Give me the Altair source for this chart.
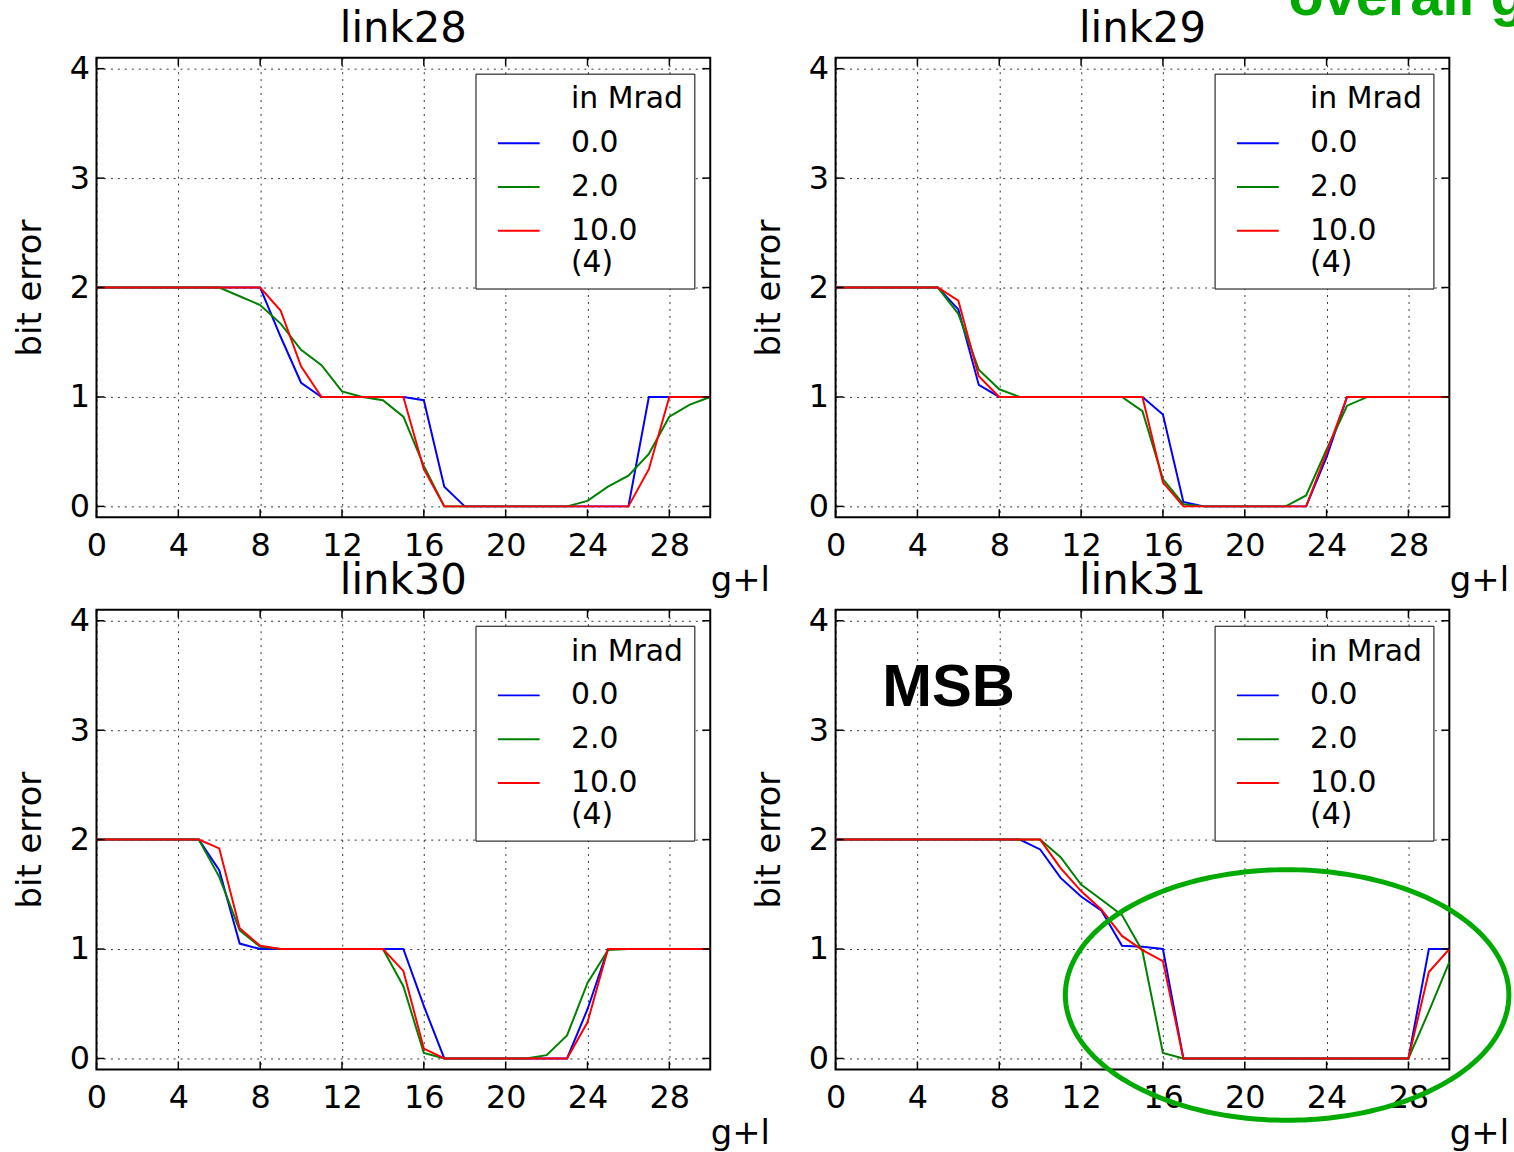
import altair as alt
import numpy as np
import pandas as pd

# ---------------- data ----------------
X = [0, 1, 2, 3, 4, 5, 6, 7, 8, 9, 10, 11, 12, 13, 14, 15, 16, 17, 18, 19, 20,
     21, 22, 23, 24, 25, 26, 27, 28, 29, 30]
X_TICKS = [0, 4, 8, 12, 16, 20, 24, 28]
Y_TICKS = [0, 1, 2, 3, 4]
DOSES = ["0.0", "2.0", "10.0"]
LEGEND_DOMAIN = ["in Mrad", "0.0", "2.0", "10.0"]
LEGEND_COLORS = ["white", "#0000ff", "#008000", "#ff0000"]

LINK28_00 = [2, 2, 2, 2, 2, 2, 2, 2, 2, 1.55, 1.13, 1, 1, 1, 1, 1, 0.97, 0.18,
             0, 0, 0, 0, 0, 0, 0, 0, 0, 1, 1, 1, 1]
LINK28_20 = [2, 2, 2, 2, 2, 2, 2, 1.92, 1.84, 1.67, 1.43, 1.29, 1.05, 1.0, 0.97,
             0.82, 0.37, 0, 0, 0, 0, 0, 0, 0, 0.05, 0.18, 0.28, 0.48, 0.82, 0.93, 1.0]
LINK28_100 = [2, 2, 2, 2, 2, 2, 2, 2, 2, 1.79, 1.28, 1, 1, 1, 1, 1, 0.34, 0,
              0, 0, 0, 0, 0, 0, 0, 0, 0, 0.34, 1, 1, 1]

LINK29_00 = [2, 2, 2, 2, 2, 2, 1.8, 1.11, 1, 1, 1, 1, 1, 1, 1, 1, 0.84, 0.04,
             0, 0, 0, 0, 0, 0, 0.45, 1, 1, 1, 1, 1, 1]
LINK29_20 = [2, 2, 2, 2, 2, 2, 1.76, 1.25, 1.07, 1, 1, 1, 1, 1, 1, 0.87, 0.25, 0.02,
             0, 0, 0, 0, 0, 0.1, 0.52, 0.92, 1, 1, 1, 1, 1]
LINK29_100 = [2, 2, 2, 2, 2, 2, 1.88, 1.19, 1, 1, 1, 1, 1, 1, 1, 1, 0.22, 0,
              0, 0, 0, 0, 0, 0, 0.49, 1, 1, 1, 1, 1, 1]

LINK30_00 = [2, 2, 2, 2, 2, 2, 1.72, 1.05, 1, 1, 1, 1, 1, 1, 1, 1, 0.48, 0,
             0, 0, 0, 0, 0, 0, 0.45, 1, 1, 1, 1, 1, 1]
LINK30_20 = [2, 2, 2, 2, 2, 2, 1.66, 1.17, 1.02, 1, 1, 1, 1, 1, 1, 0.66, 0.05, 0,
             0, 0, 0, 0, 0.03, 0.21, 0.69, 0.99, 1, 1, 1, 1, 1]
LINK30_100 = [2, 2, 2, 2, 2, 2, 1.92, 1.19, 1.03, 1, 1, 1, 1, 1, 1, 0.8, 0.09, 0,
              0, 0, 0, 0, 0, 0, 0.33, 1, 1, 1, 1, 1, 1]

LINK31_00 = [2, 2, 2, 2, 2, 2, 2, 2, 2, 2, 1.91, 1.65, 1.48, 1.35, 1.03, 1.02, 1.0,
             0, 0, 0, 0, 0, 0, 0, 0, 0, 0, 0, 0, 1.0, 1.0]
LINK31_20 = [2, 2, 2, 2, 2, 2, 2, 2, 2, 2, 2, 1.84, 1.59, 1.45, 1.31, 0.98, 0.05,
             0, 0, 0, 0, 0, 0, 0, 0, 0, 0, 0, 0, 0.43, 0.88]
LINK31_100 = [2, 2, 2, 2, 2, 2, 2, 2, 2, 2, 2, 1.74, 1.53, 1.36, 1.12, 0.99, 0.89,
              0, 0, 0, 0, 0, 0, 0, 0, 0, 0, 0, 0, 0.79, 1.0]

# annotations (data coordinates of the link31 panel)
MSB_POS = [2.28, 3.22]
ELL_CENTER = [22.07, 0.58]
ELL_RADII = [10.84, 1.145]

# ---------------- chart ----------------
W, H = 617, 462
FONT = "DejaVu Sans"
xs = alt.Scale(domain=[0, 30], nice=False, zero=False)
ys = alt.Scale(domain=[-0.1, 4.1], nice=False, zero=False)

x_axis = alt.Axis(values=X_TICKS, title="g+l", titleX=W, titleY=74,
                  titleAlign="left", titleBaseline="alphabetic",
                  labelPadding=13, format="d")
y_axis = alt.Axis(values=Y_TICKS, title="bit error", titleX=-66, titleY=H / 2,
                  titleAngle=270, titleAlign="center", titleBaseline="middle",
                  labelPadding=7, format="d")

legend = alt.Legend(
    orient="top-right", offset=16, title=None,
    labelFont=FONT, labelFontSize=30, labelColor="black",
    symbolType="M-2,0H2", symbolSize=441, symbolStrokeWidth=2,
    labelOffset=37.5, padding=11, symbolOffset=17.5, rowPadding=14,
    strokeColor="black", fillColor="white",
    labelExpr="datum.label == '10.0' ? ['10.0', '(4)'] : datum.label",
)


def tick_layers():
    yt = pd.DataFrame({"y": Y_TICKS})
    xt = pd.DataFrame({"x": X_TICKS})
    base_y = alt.Chart(yt).mark_rule(color="black", strokeWidth=1.5)
    base_x = alt.Chart(xt).mark_rule(color="black", strokeWidth=1.5)
    yenc = alt.Y("y:Q", scale=ys)
    xenc = alt.X("x:Q", scale=xs)
    return [
        base_y.encode(y=yenc, x=alt.value(0), x2=alt.value(8)),
        base_y.encode(y=yenc, x=alt.value(W - 8), x2=alt.value(W)),
        base_x.encode(x=xenc, y=alt.value(H - 8), y2=alt.value(H)),
        base_x.encode(x=xenc, y=alt.value(0), y2=alt.value(8)),
    ]


def panel(title, s00, s20, s100, extras=()):
    df = pd.DataFrame({
        "x": X + X + X,
        "y": s00 + s20 + s100,
        "dose": [DOSES[0]] * len(X) + [DOSES[1]] * len(X) + [DOSES[2]] * len(X),
    })
    lines = alt.Chart(df).mark_line(strokeWidth=2).encode(
        x=alt.X("x:Q", scale=xs, axis=x_axis),
        y=alt.Y("y:Q", scale=ys, axis=y_axis),
        color=alt.Color("dose:N", scale=alt.Scale(domain=LEGEND_DOMAIN,
                                                   range=LEGEND_COLORS),
                        legend=legend),
    )
    layers = [lines] + tick_layers() + list(extras)
    return alt.layer(*layers).properties(
        width=W, height=H, title=alt.TitleParams(title, frame="group"))


msb_df = pd.DataFrame({"x": [MSB_POS[0]], "y": [MSB_POS[1]], "t": ["MSB"]})
msb = alt.Chart(msb_df).mark_text(
    align="left", baseline="alphabetic", font="Liberation Sans",
    fontSize=60, fontWeight="bold", color="black", clip=False,
).encode(x=alt.X("x:Q", scale=xs), y=alt.Y("y:Q", scale=ys), text="t:N")

theta = np.linspace(0, 2 * np.pi, 241)
ell_df = pd.DataFrame({
    "x": ELL_CENTER[0] + ELL_RADII[0] * np.cos(theta),
    "y": ELL_CENTER[1] + ELL_RADII[1] * np.sin(theta),
    "i": np.arange(len(theta)),
})
ellipse = alt.Chart(ell_df).mark_line(color="#00aa00", strokeWidth=5, clip=False).encode(
    x=alt.X("x:Q", scale=xs),
    y=alt.Y("y:Q", scale=ys),
    order="i:Q",
)

p28 = panel("link28", LINK28_00, LINK28_20, LINK28_100)
p29 = panel("link29", LINK29_00, LINK29_20, LINK29_100)
p30 = panel("link30", LINK30_00, LINK30_20, LINK30_100)
p31 = panel("link31", LINK31_00, LINK31_20, LINK31_100, [msb, ellipse])

chart = alt.concat(
    p28, p29, p30, p31, columns=2,
    spacing={"row": 93, "column": 126}, bounds="flush",
    title=alt.TitleParams(
        "overall g", anchor="end", font="Liberation Sans", fontSize=58,
        fontWeight="bold", color="#00aa00", offset=-66, baseline="alphabetic", dx=6,
    ),
).resolve_scale(color="independent").resolve_legend(color="independent").properties(
    padding={"left": 13, "top": -35, "right": -12, "bottom": 0},
    background="white",
).configure_view(
    stroke="black", strokeWidth=2,
).configure_axis(
    labelFont=FONT, labelFontSize=32, labelColor="black",
    titleFont=FONT, titleFontSize=34, titleFontWeight="normal", titleColor="black",
    grid=True, gridColor="black", gridDash=[2, 5], gridOpacity=0.8, gridWidth=1,
    ticks=False, tickSize=0, domain=False, labelFlush=False, labelOverlap=False,
).configure_title(
    font=FONT, fontSize=42, fontWeight="normal", color="black",
    anchor="middle", offset=2, baseline="alphabetic",
)

chart.save("out.html", embed_options={"renderer": "svg", "actions": False})
